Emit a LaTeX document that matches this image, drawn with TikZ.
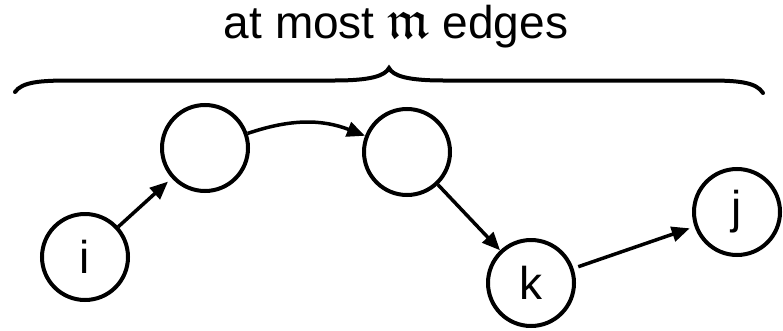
\documentclass[tikz,border=0pt]{standalone}
\usepackage{amsmath,amssymb}
\usepackage{fontspec}
\setmainfont{Liberation Sans}
\usepackage{tikz}
\usetikzlibrary{arrows.meta}
\tikzset{
 vtx/.style={circle, draw=black, line width=4pt, minimum size=86pt, inner sep=0pt,
 font=\fontsize{46}{55}\selectfont},
 fl/.style={-{Triangle[length=18pt,width=15pt]}, draw=black, line width=3.5pt},
 brc/.style={draw=black, line width=4pt, line cap=round},
}

\begin{document}
\begin{tikzpicture}[x=1pt,y=1pt]
 \useasboundingbox (0,0) rectangle (783,330);
 % walk from i to j
 \node[vtx] (I) at (85,73) {i};
 \node[vtx] (A) at (205,182) {};
 \node[vtx] (B) at (407,178) {};
 \node[vtx] (K) at (531,47) {k};
 \node[vtx] (J) at (737,118) {j};
 % caption over the brace
 \node[font=\fontsize{46}{55}\selectfont, anchor=base] (T) at (396,291)
 {at most \scalebox{1.2}{$\mathfrak{m}$} edges};
 \draw[brc] (15,238) .. controls (22,248) and (40,249.5) .. (70,249.5) -- (335,249.5)
 .. controls (370,249.5) and (385,254) .. (389,262)
 .. controls (393,254) and (408,249.5) .. (443,249.5) -- (708,249.5)
 .. controls (738,249.5) and (756,248) .. (763,237);

 \draw[fl, shorten >=5pt] (I) -- (A);
 \draw[fl] (A) to[bend left=20] (B);
 \draw[fl] (B) -- (K);
 \draw[fl, shorten <=5pt, shorten >=5pt] (K) -- (J);
\end{tikzpicture}
\end{document}
